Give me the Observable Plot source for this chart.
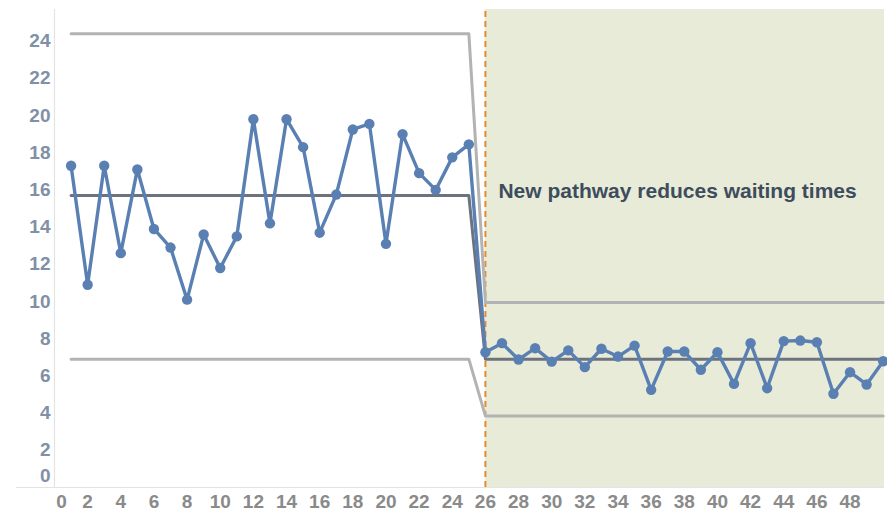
<!DOCTYPE html>
<html>
<head>
<meta charset="utf-8">
<script src="https://cdn.jsdelivr.net/npm/d3@7"></script>
<script src="https://cdn.jsdelivr.net/npm/@observablehq/plot@0.6"></script>
<style>
  html, body { margin: 0; padding: 0; background: #fff; }
  #chart svg { display: block; }
</style>
</head>
<body>
<div id="chart"></div>
<script>
// Observation index
const periods = d3.range(1, 51);
// Waiting times
const waitingTimes = [
  17.3, 10.9, 17.3, 12.6, 17.1, 13.9, 12.9, 10.1, 13.6, 11.8,
  13.5, 19.8, 14.2, 19.8, 18.3, 13.7, 15.75, 19.25, 19.55, 13.1,
  19.0, 16.9, 16.0, 17.75, 18.45, 7.27, 7.76, 6.88, 7.49, 6.77,
  7.37, 6.47, 7.46, 7.04, 7.63, 5.25, 7.31, 7.31, 6.33, 7.27,
  5.57, 7.76, 5.34, 7.87, 7.9, 7.81, 5.04, 6.2, 5.54, 6.79
];
// Control limits per phase
const centreLine = [15.7, 6.9];
const upperLimit = [24.4, 9.95];
const lowerLimit = [6.9, 3.85];
const changePoint = 26;
const annotation = "New pathway reduces waiting times";
const yTicks = d3.range(2, 25, 2);
const xTicks = d3.range(2, 49, 2);

const xMax = 50.08, yMax = 25.7;

const rows = periods.map((p, i) => {
  const ph = p >= changePoint ? 1 : 0;
  return {p, v: waitingTimes[i], cl: centreLine[ph], ucl: upperLimit[ph], lcl: lowerLimit[ph]};
});

const font = "Liberation Sans, Arial, sans-serif";

const chart = Plot.plot({
  width: 887,
  height: 513,
  marginLeft: 54,
  marginRight: 3,
  marginTop: 9,
  marginBottom: 26,
  style: {fontFamily: font, background: "#fff", overflow: "visible"},
  x: {domain: [0, xMax]},
  y: {domain: [0, yMax]},
  marks: [
    Plot.rect([{x1: changePoint, x2: xMax}], {x1: "x1", x2: "x2", y1: 0, y2: yMax, fill: "#e7ebd8"}),
    Plot.ruleX([0], {y1: 0, y2: yMax, stroke: "#e3e3e3", strokeWidth: 1.2}),
    Plot.ruleY([0], {x1: -2.3, x2: xMax, stroke: "#e3e3e3", strokeWidth: 1.2}),
    Plot.ruleX([changePoint], {y1: 0, y2: yMax, stroke: "#e8892b", strokeWidth: 2, strokeDasharray: "6,4"}),
    Plot.line(rows, {x: "p", y: "ucl", stroke: "#b3b3b3", strokeWidth: 3}),
    Plot.line(rows, {x: "p", y: "lcl", stroke: "#b3b3b3", strokeWidth: 3}),
    Plot.line(rows, {x: "p", y: "cl", stroke: "#6c737e", strokeWidth: 3}),
    Plot.line(rows, {x: "p", y: "v", stroke: "#5a80b3", strokeWidth: 3.4}),
    Plot.dot(rows, {x: "p", y: "v", r: 5.2, fill: "#5a80b3"}),
    Plot.text([annotation], {x: changePoint, y: 16, text: d => d, textAnchor: "start", dx: 13, dy: 1,
      fontSize: 21, fontWeight: "bold", fill: "#3e4c5d"}),
    Plot.axisY(yTicks, {tickSize: 0, tickPadding: 4, fontSize: 19, fontWeight: "bold", fill: "#8090a6"}),
    Plot.text([0], {x: 0, y: d => d, text: d => String(d), textAnchor: "end", dx: -4, dy: -12,
      fontSize: 19, fontWeight: "bold", fill: "#8090a6"}),
    Plot.axisX(xTicks, {tickSize: 0, tickPadding: 7, fontSize: 19, fontWeight: "bold", fill: "#8a8a8a"}),
    Plot.text([0], {x: d => d, y: 0, text: d => String(d), lineAnchor: "top", dx: 7, dy: 7,
      fontSize: 19, fontWeight: "bold", fill: "#8a8a8a"})
  ]
});
document.getElementById("chart").appendChild(chart);
</script>
</body>
</html>
